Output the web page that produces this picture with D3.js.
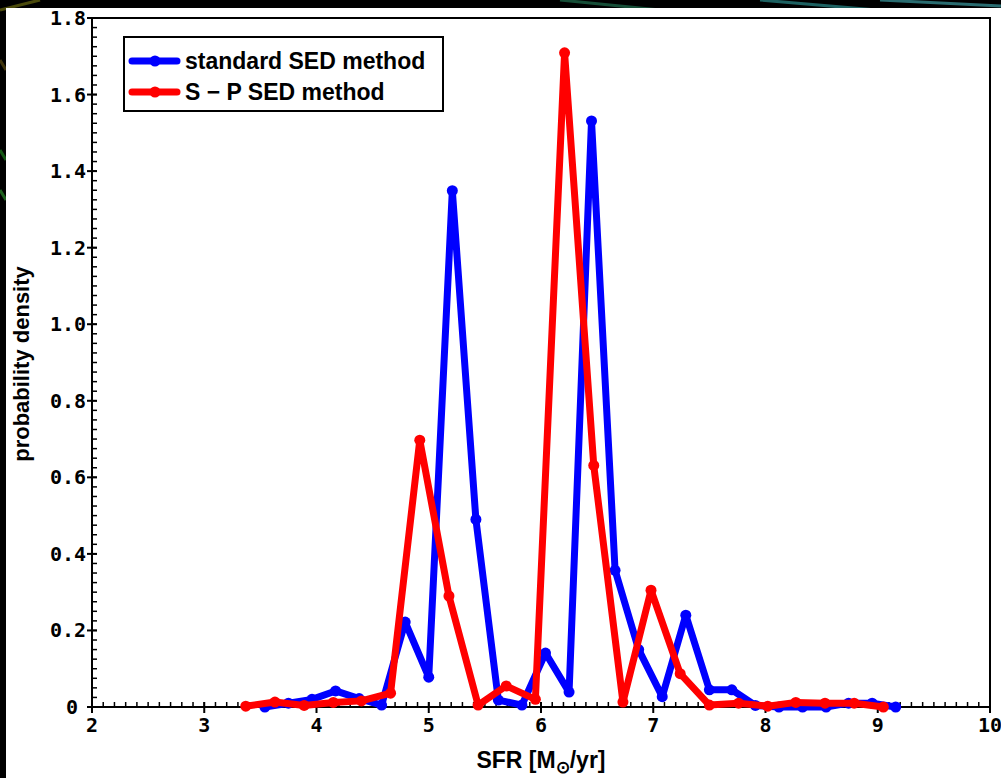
<!DOCTYPE html>
<html>
<head>
<meta charset="utf-8">
<script src="https://cdn.jsdelivr.net/npm/d3@7"></script>
<style>
	body { margin: 0; background: #000; }
	svg { display: block; }
</style>
</head>
<body>
<svg id="chart" width="1001" height="778"></svg>
<script>
// standard SED method (blue)
const sfrStandard = [3.54, 3.75, 3.96, 4.17, 4.38, 4.58, 4.79, 5.0, 5.21, 5.42, 5.62, 5.83, 6.04, 6.25,
	6.45, 6.66, 6.87, 7.08, 7.29, 7.5, 7.7, 7.91, 8.12, 8.33, 8.54, 8.74, 8.95, 9.16];
const pdStandard = [0.0, 0.01, 0.02, 0.042, 0.022, 0.005, 0.222, 0.078, 1.349, 0.49, 0.018, 0.005, 0.141, 0.039,
	1.531, 0.357, 0.15, 0.027, 0.24, 0.045, 0.045, 0.004, 0.0, 0.0, 0.0, 0.01, 0.01, 0.0];

// S - P SED method (red)
const sfrSP = [3.37, 3.63, 3.89, 4.15, 4.4, 4.66, 4.92, 5.18, 5.44, 5.69, 5.95, 6.21,
	6.47, 6.73, 6.98, 7.24, 7.5, 7.76, 8.02, 8.27, 8.53, 8.79, 9.05];
const pdSP = [0.002, 0.013, 0.004, 0.012, 0.016, 0.036, 0.697, 0.29, 0.005, 0.055, 0.02, 1.709,
	0.631, 0.013, 0.305, 0.087, 0.005, 0.01, 0.002, 0.012, 0.01, 0.01, 0.0];

const xTicks = [2, 3, 4, 5, 6, 7, 8, 9, 10];
const yTicks = [0, 0.2, 0.4, 0.6, 0.8, 1.0, 1.2, 1.4, 1.6, 1.8];
const yTickLabels = ["0", "0.2", "0.4", "0.6", "0.8", "1.0", "1.2", "1.4", "1.6", "1.8"];
const seriesNames = ["standard SED method", "S \u2212 P SED method"];
const seriesColors = ["#0000ff", "#ff0000"];

const plot = { left: 92, top: 18, right: 990, bottom: 707 };
const svg = d3.select("#chart");

let x = d3.scaleLinear().domain([2, 10]).range([plot.left, plot.right]);
let y = d3.scaleLinear().domain([0, 1.8]).range([plot.bottom, plot.top]);

// background streaks + white panel
let streaks = [
	[560, 0, 700, 14, "#1f6f4f"], [760, 0, 900, 12, "#2a8a8a"], [880, 0, 1001, 6, "#3a9aa0"],
	[0, 10, 40, 0, "#6a6a10"], [0, 150, 6, 160, "#1a7a1a"], [0, 190, 6, 200, "#2a8a2a"],
	[0, 60, 6, 70, "#5a4a10"]
];
svg.append("g")
	.selectAll("line")
	.data(streaks)
	.join("line")
	.attr("x1", (d) => d[0])
	.attr("y1", (d) => d[1])
	.attr("x2", (d) => d[2])
	.attr("y2", (d) => d[3])
	.attr("stroke", (d) => d[4])
	.attr("stroke-width", 3)
	.attr("stroke-opacity", 0.7);

svg.append("rect")
	.attr("x", 6)
	.attr("y", 8)
	.attr("width", 995)
	.attr("height", 770)
	.attr("fill", "#fff");

// axes
let axisG = svg.append("g").attr("stroke", "#000");

axisG.append("rect")
	.attr("x", plot.left)
	.attr("y", plot.top)
	.attr("width", plot.right - plot.left)
	.attr("height", plot.bottom - plot.top)
	.attr("fill", "none")
	.attr("stroke-width", 2);

let xMinor = d3.range(20, 101).map((d) => d / 10);
axisG.selectAll("line.xminor")
	.data(xMinor)
	.join("line")
	.classed("xminor", true)
	.attr("x1", (d) => x(d))
	.attr("x2", (d) => x(d))
	.attr("y1", plot.bottom)
	.attr("y2", plot.bottom - 5)
	.attr("stroke-width", 1.5);

axisG.selectAll("line.xmajor")
	.data(xTicks)
	.join("line")
	.classed("xmajor", true)
	.attr("x1", (d) => x(d))
	.attr("x2", (d) => x(d))
	.attr("y1", plot.bottom - 5)
	.attr("y2", plot.bottom + 6)
	.attr("stroke-width", 2);

let yMinor = d3.range(0, 73).map((d) => d * 0.025);
axisG.selectAll("line.yminor")
	.data(yMinor)
	.join("line")
	.classed("yminor", true)
	.attr("x1", plot.left)
	.attr("x2", plot.left + 5)
	.attr("y1", (d) => y(d))
	.attr("y2", (d) => y(d))
	.attr("stroke-width", 1.5);

axisG.selectAll("line.ymajor")
	.data(yTicks)
	.join("line")
	.classed("ymajor", true)
	.attr("x1", plot.left - 5)
	.attr("x2", plot.left + 5)
	.attr("y1", (d) => y(d))
	.attr("y2", (d) => y(d))
	.attr("stroke-width", 2);

let labelFont = "'DejaVu Sans Mono', monospace";

svg.append("g")
	.selectAll("text")
	.data(xTicks)
	.join("text")
	.attr("x", (d) => x(d))
	.attr("y", plot.bottom + 25)
	.attr("text-anchor", "middle")
	.attr("font-family", labelFont)
	.attr("font-weight", "bold")
	.attr("font-size", 20)
	.text((d) => d);

svg.append("g")
	.selectAll("text")
	.data(yTicks)
	.join("text")
	.attr("x", (d, i) => (i === 0 ? plot.left - 14 : plot.left - 6))
	.attr("y", (d) => y(d) + 7)
	.attr("text-anchor", "end")
	.attr("font-family", labelFont)
	.attr("font-weight", "bold")
	.attr("font-size", 20)
	.text((d, i) => yTickLabels[i]);

// axis titles
let xTitle = svg.append("text")
	.attr("x", 541)
	.attr("y", 768)
	.attr("text-anchor", "middle")
	.attr("font-family", "'Liberation Sans', Arial, sans-serif")
	.attr("font-weight", "bold")
	.attr("font-size", 23);
xTitle.append("tspan").text("SFR [M");
xTitle.append("tspan").attr("font-size", 17).attr("dy", 5).text("\u2299");
xTitle.append("tspan").attr("dy", -5).text("/yr]");

svg.append("text")
	.attr("transform", "translate(29, 364) rotate(-90)")
	.attr("text-anchor", "middle")
	.attr("font-family", "'Liberation Sans', Arial, sans-serif")
	.attr("font-weight", "bold")
	.attr("font-size", 22)
	.text("probability density");

// series
let series = [
	{ xs: sfrStandard, ys: pdStandard, color: seriesColors[0] },
	{ xs: sfrSP, ys: pdSP, color: seriesColors[1] }
];

let line = d3.line()
	.x((d) => x(d[0]))
	.y((d) => y(d[1]));

let seriesG = svg.append("g");
series.forEach((s) => {
	let pts = s.xs.map((v, i) => [v, s.ys[i]]);
	let g = seriesG.append("g");
	g.append("path")
		.attr("d", line(pts))
		.attr("fill", "none")
		.attr("stroke", s.color)
		.attr("stroke-width", 7)
		.attr("stroke-linejoin", "round")
		.attr("stroke-linecap", "round");
	g.selectAll("circle")
		.data(pts)
		.join("circle")
		.attr("cx", (d) => x(d[0]))
		.attr("cy", (d) => y(d[1]))
		.attr("r", 5.5)
		.attr("fill", s.color);
});

// legend
let legendG = svg.append("g").attr("transform", "translate(124, 37)");
legendG.append("rect")
	.attr("width", 319)
	.attr("height", 74)
	.attr("fill", "#fff")
	.attr("stroke", "#000")
	.attr("stroke-width", 2);

let items = legendG.selectAll("g.item")
	.data(seriesNames)
	.join("g")
	.classed("item", true)
	.attr("transform", (d, i) => `translate(0, ${24 + i * 31})`);

items.append("line")
	.attr("x1", 8)
	.attr("x2", 53)
	.attr("stroke", (d, i) => seriesColors[i])
	.attr("stroke-width", 7)
	.attr("stroke-linecap", "round");

items.append("circle")
	.attr("cx", 31)
	.attr("r", 5.5)
	.attr("fill", (d, i) => seriesColors[i]);

items.append("text")
	.attr("x", 61)
	.attr("y", 8)
	.attr("font-family", "'Liberation Sans', Arial, sans-serif")
	.attr("font-weight", "bold")
	.attr("font-size", 23)
	.text((d) => d);
</script>
</body>
</html>
